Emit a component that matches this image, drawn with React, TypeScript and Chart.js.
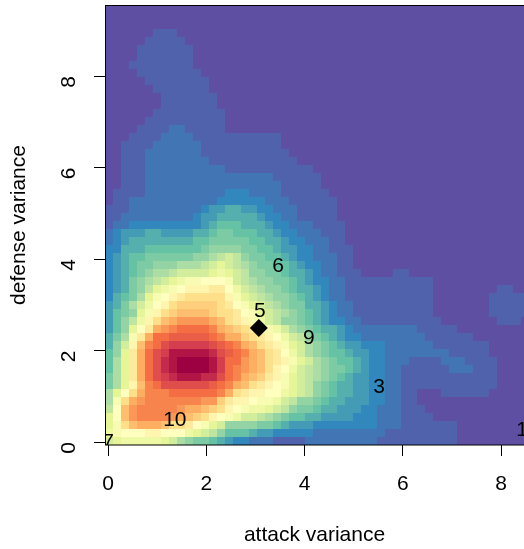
import React, { useEffect, useRef } from "react";
import { Chart, registerables } from "chart.js";

Chart.register(...registerables);

// density level per cell, top row first, left column first (a = lowest ... E = highest); short rows continue with a
const levelLetters = "abcdefghijklmnopqrstuvwxyzABCDE";
const densityRows = [
  "", "", "",
  "aaaaaabbb",
  "aaaaabbbbb",
  "aaaabbbbbbb",
  "aaaabbbbbbb",
  "aaabbbbbbbb",
  "aaaabbbbbbbb",
  "aaaaabbbbbbbb",
  "aaaaaabbbbbbb",
  "aaaaaaabbbbbbb",
  "aaaaaaabbbbbbb",
  "aaaaaabbbbbbbbb",
  "aaaaabbbbbbbbbb",
  "aaaabbbbccbbbbb",
  "aaabbbbccccbbbbbbbbbbb",
  "aabbbbccccccbbbbbbbbbb",
  "aabbbcccccccbbbbbbbbbbb",
  "aabbbccccccccbbbbbbbbbbb",
  "aabbbccccccccccbbbbbbbbbbb",
  "aabbbccccccccccccccccbbbbbb",
  "aabbbcccccccccccccccccbbbbb",
  "abbbbccccccccccdddccccbbbbbb",
  "abbcccccccccccddddddcccbbbbbb",
  "bbbcccccccccdeeffeeddcccbbbbb",
  "bbcccccccccdeefffffeddccbbbbb",
  "bccdddddddddefgggfffeddcccbbbb",
  "cdeeeffeeeeffghhgggffeddcccbbb",
  "cdeffffffffgghhhhhggffeddcccbb",
  "ddfffggggggghiiiihhggfeeddccbbb",
  "defgghhhhhhiijklkihhggfeddcccbb",
  "defghhiiijjjklmlkjihhggfeddccbb",
  "defghijjkllllmnmlkiihhgffedccbbbaaaabb",
  "defhijklmnoopppolkjiihhgfeddccbbbbbbbbbbb",
  "defhikmnopqqqrrpnlkjiihgffedccbbbbbbbbbbbaaaaaaaabb",
  "dfghjmopqrsssssqomlkjiihgfedccbbbbbbbbbbbaaaaaaabbbbb",
  "efhjlnpqstttttsrpomlkjihhffedccbbbbbbbbbbaaaaaaabbbbb",
  "eghimoqstuuuutssrpomlkjihgfedccbbbbbbbbbbaaaaaaabbbbb",
  "egiknqsuvwwwwvusrqonlkiihgfeddccbbbbbbbbbbaaaaaaabbb",
  "egimprvwxyyyyxvutsrqonljihgffedccccccccbbbbb",
  "fhjorvyyzzzzzyxvvtsrqpnlkihgfeddccccccccbbbbbb",
  "filquxyABBBBBAzyxvusrqomljihgfeedddccccccbbbbbbb",
  "gimrvyABDDDDDCAzyxvusrpnljihggfeeddccccccccbbbbb",
  "gjmrvyACDEEEEDByywvusrqomljihggfeddcccbbbbcccbbbb",
  "gjmrvyACDEEEEDByxwvusqpnlkjihhgfeddccbbbbbbcccbbb",
  "hjmrvyABCDDDCCAyxvutrqomlkjihgfeeddccbbbbbbbbbbbb",
  "hjmquxyAAAAAAzyxvusrqpomlkihgffeeddccbbbbbbbbbbbb",
  "jmpsvxxxyyyyyyxvsrqqppnmlkihgffeeddccbbaaabbbbbb",
  "josvwxxxxxxxwwtrqqpoonlkiihgffeeeddccbb",
  "kpuwxxxxxwvvutsqponnmlkihhgffeeeddcccbbb",
  "mpuwxxxxwvutsqponllkjihggffeeeedddcccbbbb",
  "mosuvvvussrpomliiiihhgfeeeddddddddcccbbbbbbb",
  "nopppqqpppnmlkigggfeedddddcccccccccbbbbbbbbb",
  "lmnnnnnmljihhgfeddcccbbbbcccccccccbbbbbbbbbb",
];
const columnCount = 53;

const spectralAnchors = [
  "#5E4FA2", "#3288BD", "#66C2A5", "#ABDDA4", "#E6F598", "#FFFFBF",
  "#FEE08B", "#FDAE61", "#F46D43", "#D53E4F", "#9E0142",
];
const stepsPerAnchor = 3;

const xTicks = [0, 2, 4, 6, 8];
const yTicks = [0, 2, 4, 6, 8];

const pointNames = ["6", "5", "9", "3", "10", "7", "1"];
const pointX = [3.46, 3.09, 4.09, 5.52, 1.36, 0, 8.43];
const pointY = [3.85, 2.86, 2.27, 1.2, 0.48, 0, 0.26];
const markerX = [3.07];
const markerY = [2.49];

const CELL = 8;
const X_PX = 49.125;
const Y_PX = 45.75;
const LEFT = 105;
const TOP = 5;
const RIGHT = 524;
const BOTTOM = 445;
const FONT = "'Liberation Sans', Arial, sans-serif";

const hexRgb = (h: string) => [1, 3, 5].map((i) => parseInt(h.slice(i, i + 2), 16));

function levelCanvases() {
  const out: HTMLCanvasElement[] = [];
  for (let i = 0; i < levelLetters.length; i++) {
    const p = i / stepsPerAnchor;
    const lo = Math.min(Math.floor(p), spectralAnchors.length - 2);
    const t = p - lo;
    const a = hexRgb(spectralAnchors[lo]);
    const b = hexRgb(spectralAnchors[lo + 1]);
    const c = a.map((v, k) => Math.round(v + (b[k] - v) * t));
    const cv = document.createElement("canvas");
    cv.width = CELL;
    cv.height = CELL;
    const g = cv.getContext("2d")!;
    g.fillStyle = `rgb(${c[0]},${c[1]},${c[2]})`;
    g.fillRect(0, 0, CELL, CELL);
    out.push(cv);
  }
  return out;
}

const noPadding = (s: any) => {
  s.paddingLeft = 0;
  s.paddingRight = 0;
  s.paddingTop = 0;
  s.paddingBottom = 0;
};

export default function App() {
  const ref = useRef<HTMLCanvasElement>(null);
  useEffect(() => {
    document.body.style.margin = "0";
    document.body.style.background = "#fff";
    const xMin = -(3 / X_PX);
    const xMax = (RIGHT - LEFT - 3) / X_PX;
    const yMin = -(3 / Y_PX);
    const yMax = (BOTTOM - TOP - 3) / Y_PX;
    const xStep = CELL / X_PX;
    const yStep = CELL / Y_PX;
    const cells: { x: number; y: number; v: number }[] = [];
    densityRows.forEach((row, r) => {
      for (let c = 0; c < columnCount; c++) {
        cells.push({
          x: xMin + (c + 0.5) * xStep,
          y: yMax - (r + 0.5) * yStep,
          v: Math.max(0, levelLetters.indexOf(row[c] ?? "a")),
        });
      }
    });
    const swatches = levelCanvases();

    const overlay = {
      id: "overlay",
      afterDatasetsDraw(chart: any) {
        const { ctx, scales, chartArea } = chart;
        ctx.save();
        ctx.beginPath();
        ctx.rect(chartArea.left, chartArea.top, chartArea.right - chartArea.left, chartArea.bottom - chartArea.top);
        ctx.clip();
        ctx.fillStyle = "#000";
        ctx.font = `21px ${FONT}`;
        ctx.textAlign = "center";
        ctx.textBaseline = "middle";
        pointNames.forEach((n, i) => {
          ctx.fillText(n, scales.x.getPixelForValue(pointX[i]), scales.y.getPixelForValue(pointY[i]));
        });
        ctx.restore();
        ctx.save();
        ctx.strokeStyle = "#000";
        ctx.lineWidth = 1;
        ctx.strokeRect(LEFT + 0.5, TOP + 0.5, RIGHT - LEFT + 5, BOTTOM - TOP - 0.5);
        ctx.restore();
      },
    };

    const tickFont = { family: FONT, size: 21 };
    const chart = new Chart(ref.current!, {
      type: "scatter",
      plugins: [overlay],
      data: {
        datasets: [
          {
            data: cells,
            pointRadius: 1,
            pointHoverRadius: 1,
            pointStyle: (c: any) => swatches[c.raw ? c.raw.v : 0],
            order: 2,
          } as any,
          {
            data: markerX.map((x, i) => ({ x, y: markerY[i] })),
            pointStyle: "rectRot",
            pointRadius: 9,
            backgroundColor: "#000",
            borderColor: "#000",
            borderWidth: 0,
            order: 1,
          },
        ],
      },
      options: {
        responsive: false,
        animation: false,
        events: [],
        layout: { autoPadding: false, padding: { top: TOP, left: 0, right: 0, bottom: 0 } },
        plugins: { legend: { display: false }, tooltip: { enabled: false }, title: { display: false } },
        scales: {
          x: {
            type: "linear",
            min: xMin,
            max: xMax,
            afterBuildTicks: (s: any) => {
              s.ticks = xTicks.map((value) => ({ value }));
            },
            afterFit: (s: any) => {
              s.height = 549 - BOTTOM;
              noPadding(s);
            },
            border: { display: false },
            grid: { drawOnChartArea: false, drawTicks: true, tickLength: 11, tickColor: "#000", tickWidth: 1 },
            ticks: { color: "#000", font: tickFont, padding: 16, maxRotation: 0, autoSkip: false, callback: (v: any) => String(v) },
            title: { display: true, text: "attack variance", color: "#000", font: tickFont, padding: { top: 20, bottom: 1 } },
          },
          y: {
            type: "linear",
            min: yMin,
            max: yMax,
            afterBuildTicks: (s: any) => {
              s.ticks = yTicks.map((value) => ({ value }));
            },
            afterFit: (s: any) => {
              s.width = LEFT;
              noPadding(s);
            },
            border: { display: false },
            grid: { drawOnChartArea: false, drawTicks: true, tickLength: 11, tickColor: "#000", tickWidth: 1 },
            ticks: { color: "#000", font: tickFont, padding: 25, minRotation: 90, maxRotation: 90, autoSkip: false, callback: (v: any) => String(v) },
            title: { display: true, text: "defense variance", color: "#000", font: tickFont, padding: { top: 7, bottom: 0 } },
          },
        },
      },
    } as any);
    return () => chart.destroy();
  }, []);
  return <canvas ref={ref} width={524} height={549} style={{ display: "block", width: 524, height: 549 }} />;
}
